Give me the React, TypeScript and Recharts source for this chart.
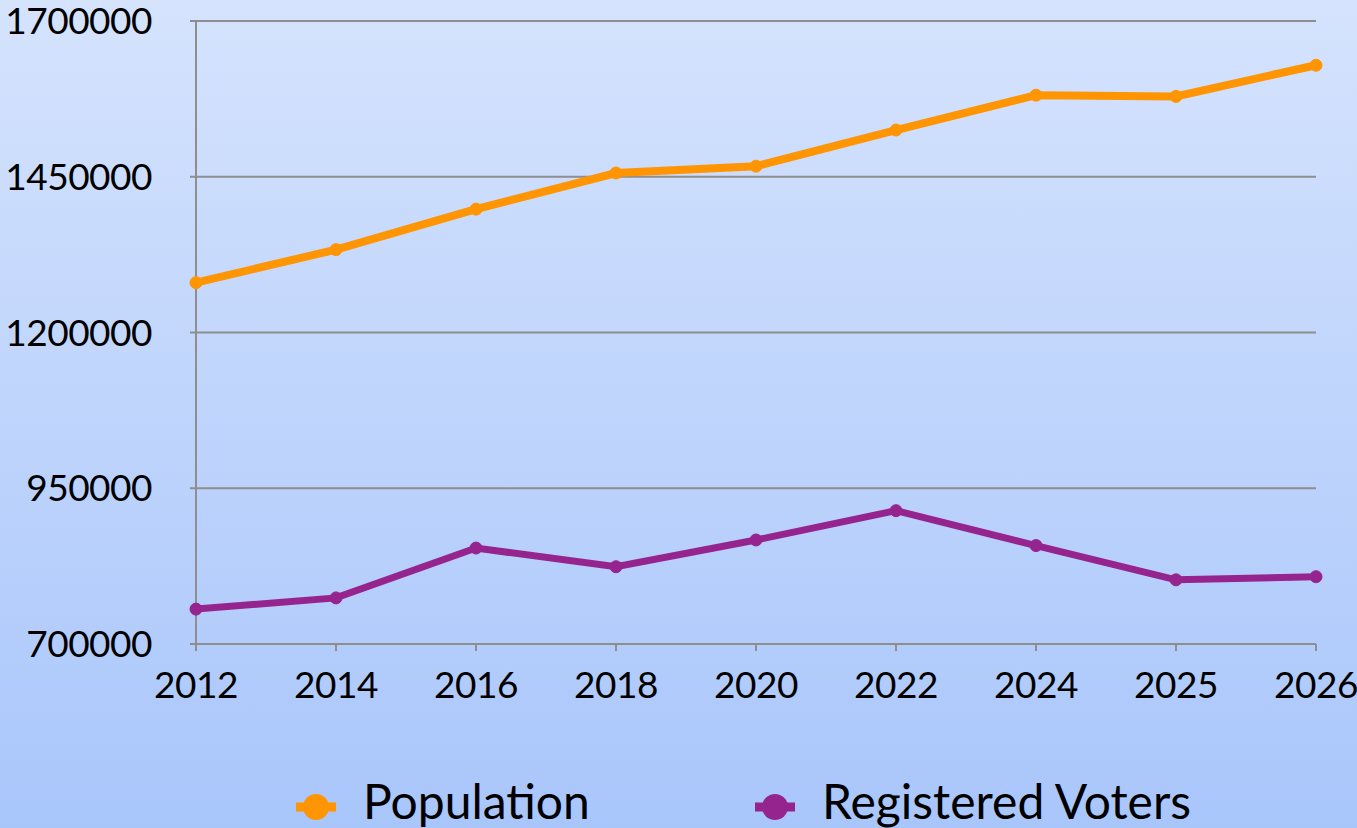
import React from "react";
import {
  LineChart,
  Line,
  XAxis,
  YAxis,
  CartesianGrid,
} from "recharts";

const years = ["2012", "2014", "2016", "2018", "2020", "2022", "2024", "2025", "2026"];
const population = [1280000, 1333000, 1398000, 1456000, 1467000, 1525000, 1581000, 1579000, 1629000];
const registeredVoters = [756000, 774000, 854000, 824000, 867000, 914000, 858000, 803000, 808000];
const yTicks = [700000, 950000, 1200000, 1450000, 1700000];

const series = [
  { key: "population", name: "Population", color: "#ff9502", width: 8 },
  { key: "voters", name: "Registered Voters", color: "#96248f", width: 7 },
];

const data = years.map((year, i) => ({
  year,
  population: population[i],
  voters: registeredVoters[i],
}));

const FONT = "Lato, 'Open Sans', sans-serif";
const AXIS_GRAY = "#8e8e8e";
const tickStyle = { fill: "#000", fontSize: 37, fontFamily: FONT, letterSpacing: -0.5 };

const legendLefts = [296, 755];

const App: React.FC = () => {
  return (
    <div
      style={{
        position: "absolute",
        left: 0,
        top: 0,
        width: 1357,
        height: 828,
        overflow: "hidden",
        background: "linear-gradient(to bottom, #d5e3fd 0%, #a9c6fb 100%)",
        fontFamily: FONT,
      }}
    >
      <LineChart
        width={1357}
        height={828}
        data={data}
        margin={{ top: 21, right: 41, left: 0, bottom: 0 }}
      >
        <CartesianGrid vertical={false} stroke={AXIS_GRAY} strokeWidth={2} />
        <XAxis
          dataKey="year"
          height={184}
          stroke={AXIS_GRAY}
          strokeWidth={2}
          tickSize={7}
          tickMargin={21}
          tick={tickStyle}
          interval={0}
        />
        <YAxis
          width={196}
          domain={[700000, 1700000]}
          ticks={yTicks}
          stroke={AXIS_GRAY}
          strokeWidth={2}
          tickSize={6}
          tickMargin={38}
          tick={tickStyle}
          interval={0}
        />
        {series.map((s) => (
          <Line
            key={s.key}
            type="linear"
            dataKey={s.key}
            name={s.name}
            stroke={s.color}
            strokeWidth={s.width}
            dot={{ r: 6, fill: s.color, stroke: s.color, strokeWidth: 1 }}
            activeDot={false}
            isAnimationActive={false}
          />
        ))}
      </LineChart>
      {series.map((s, i) => (
        <div
          key={s.key}
          style={{
            position: "absolute",
            left: legendLefts[i],
            top: 772,
            height: 58,
            display: "flex",
            alignItems: "flex-start",
            whiteSpace: "nowrap",
          }}
        >
          <svg width={40} height={58} style={{ marginRight: 27 }}>
            <line x1={0} y1={35} x2={40} y2={35} stroke={s.color} strokeWidth={9} />
            <circle cx={20} cy={35} r={13} fill={s.color} />
          </svg>
          <span style={{ fontSize: 48, lineHeight: "58px", color: "#000" }}>{s.name}</span>
        </div>
      ))}
    </div>
  );
};

export default App;
